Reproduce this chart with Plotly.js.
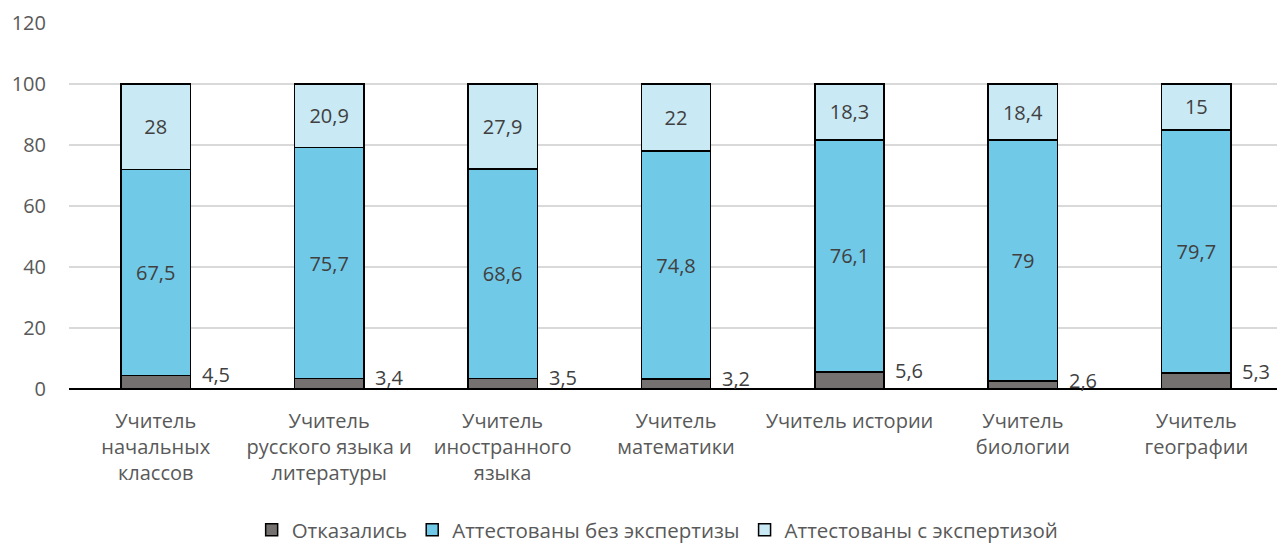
<!DOCTYPE html>
<html><head><meta charset="utf-8">
<script src="https://cdn.plot.ly/plotly-3.0.1.min.js"></script>
<style>html,body{margin:0;padding:0;background:#fff}#chart{width:1277px;height:543px}</style>
</head><body><div id="chart"></div>
<script>
const categories = [
  "Учитель<br>начальных<br>классов",
  "Учитель<br>русского языка и<br>литературы",
  "Учитель<br>иностранного<br>языка",
  "Учитель<br>математики",
  "Учитель истории",
  "Учитель<br>биологии",
  "Учитель<br>географии"
];
const refused = [4.5, 3.4, 3.5, 3.2, 5.6, 2.6, 5.3];
const noExpertise = [67.5, 75.7, 68.6, 74.8, 76.1, 79, 79.7];
const withExpertise = [28, 20.9, 27.9, 22, 18.3, 18.4, 15];
const seriesNames = ["Отказались", "Аттестованы без экспертизы", "Аттестованы с экспертизой"];
const yTicks = [0, 20, 40, 60, 80, 100, 120];

const fmt = v => String(v).replace('.', ',');
const xs = categories.map((c, i) => i);
const font = "'Open Sans', 'Segoe UI', sans-serif";
const lineStyle = {color: '#000', width: 1.5};

const traces = [
  {type: 'bar', name: seriesNames[0], x: xs, y: refused, width: 0.4,
   marker: {color: '#767171', line: lineStyle}, hoverinfo: 'none'},
  {type: 'bar', name: seriesNames[1], x: xs, y: noExpertise, width: 0.4,
   marker: {color: '#71C9E8', line: lineStyle},
   text: noExpertise.map(fmt), textposition: 'inside', insidetextanchor: 'middle',
   textangle: 0, constraintext: 'none',
   textfont: {family: font, size: 20, color: '#404040'}, hoverinfo: 'none'},
  {type: 'bar', name: seriesNames[2], x: xs, y: withExpertise, width: 0.4,
   marker: {color: '#C9E9F4', line: lineStyle},
   text: withExpertise.map(fmt), textposition: 'inside', insidetextanchor: 'middle',
   textangle: 0, constraintext: 'none',
   textfont: {family: font, size: 20, color: '#404040'}, hoverinfo: 'none'}
];

const annotations = refused.map((v, i) => ({
  x: i, y: v, xref: 'x', yref: 'y', text: fmt(v), showarrow: false,
  xanchor: 'left', yanchor: 'middle', xshift: 44, yshift: 1,
  font: {family: font, size: 20, color: '#404040'}
}));

const layout = {
  width: 1277, height: 543,
  margin: {l: 69, r: 0, t: 23, b: 154},
  barmode: 'stack',
  paper_bgcolor: '#fff', plot_bgcolor: '#fff',
  font: {family: font, color: '#595959'},
  showlegend: true,
  legend: {orientation: 'h', x: 0.515, xanchor: 'center', xref: 'container',
    y: 0.024, yanchor: 'middle', yref: 'container',
    font: {family: font, size: 20.5, color: '#595959'}, traceorder: 'normal',
    itemwidth: 30},
  xaxis: {range: [-0.5, 6.465], tickmode: 'array', tickvals: xs, ticktext: categories,
    showgrid: false, zeroline: false, showline: false, ticks: 'outside', ticklen: 14,
    tickcolor: 'rgba(0,0,0,0)', tickfont: {family: font, size: 20, color: '#595959'},
    automargin: false, fixedrange: true},
  yaxis: {range: [0, 120], tickmode: 'array', tickvals: yTicks, showgrid: true,
    gridcolor: '#d9d9d9', gridwidth: 1.5, zeroline: true, zerolinecolor: '#000', zerolinewidth: 2,
    showline: false, ticks: 'outside', ticklen: 18, tickcolor: 'rgba(0,0,0,0)',
    tickfont: {family: font, size: 20, color: '#595959'}, automargin: false, fixedrange: true},
  annotations: annotations
};

Plotly.newPlot('chart', traces, layout, {displayModeBar: false, staticPlot: true});
</script></body></html>
